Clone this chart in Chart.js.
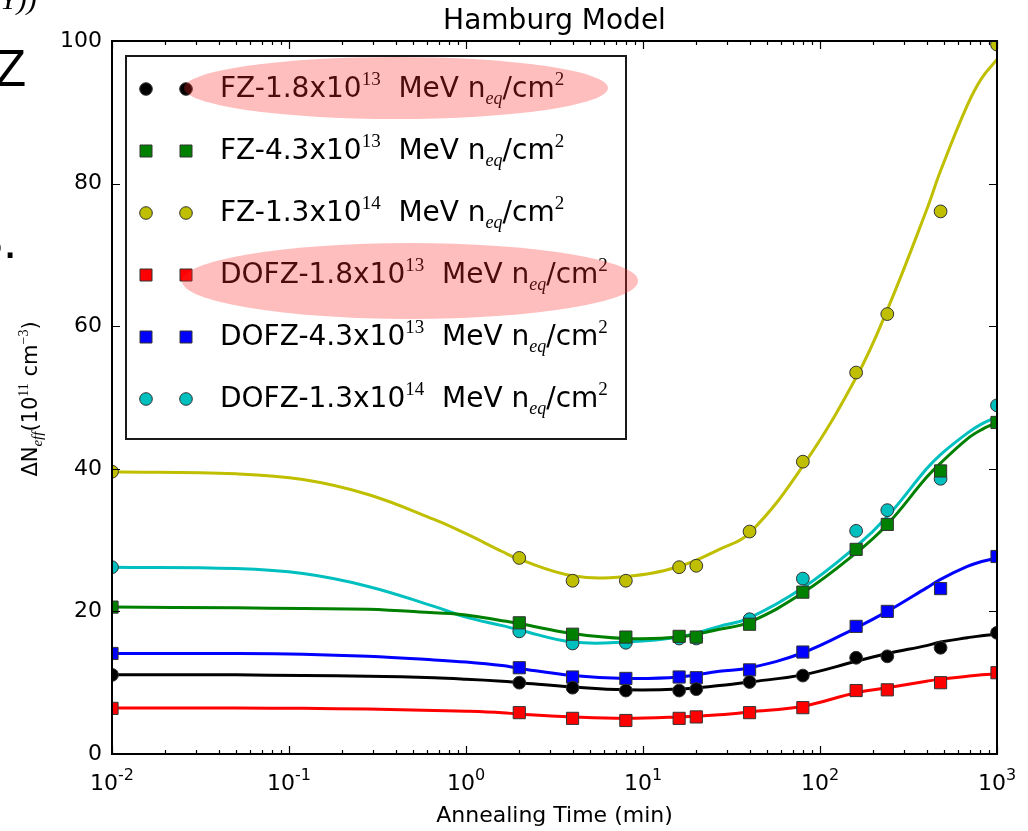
<!DOCTYPE html>
<html>
<head>
<meta charset="utf-8">
<script src="https://cdn.jsdelivr.net/npm/chart.js@4.4.1/dist/chart.umd.min.js"></script>
<style>
  html, body { margin: 0; padding: 0; background: #fff; }
  #wrap { position: relative; width: 1028px; height: 831px; }
</style>
</head>
<body>
<div id="wrap"><canvas id="annealChart"></canvas></div>
<script>
// Measured annealing points (time in min, dNeff in 1e11 cm^-3)
const annealTimes = [0.01, 2, 4, 8, 16, 20, 40, 80, 160, 240, 480, 1000];
const fz18Points   = [11.1, 10.0, 9.3, 8.9, 8.9, 9.1, 10.1, 11.0, 13.5, 13.7, 14.9, 17.0];
const fz43Points   = [20.6, 18.4, 16.8, 16.4, 16.5, 16.4, 18.2, 22.7, 28.7, 32.2, 39.7, 46.5];
const fz13Points   = [39.6, 27.5, 24.3, 24.3, 26.2, 26.4, 31.2, 41.0, 53.5, 61.7, 76.1, 99.5];
const dofz18Points = [6.4, 5.8, 5.0, 4.7, 5.0, 5.2, 5.8, 6.5, 8.9, 9.0, 10.0, 11.4];
const dofz43Points = [14.1, 12.1, 10.8, 10.6, 10.8, 10.7, 11.8, 14.3, 17.9, 20.0, 23.2, 27.7];
const dofz13Points = [26.2, 17.2, 15.5, 15.6, 16.2, 16.2, 18.9, 24.6, 31.3, 34.2, 38.6, 48.9];

// Hamburg model fit curves
const fitTimes   = [0.01, 0.05, 0.12, 0.28, 0.66, 1, 1.6, 2, 4, 8, 16, 27, 40, 80, 160, 240, 400, 480, 680, 820, 1000];
const fz18Fit    = [11.1, 11.1, 11.0, 10.9, 10.7, 10.5, 10.2, 10.0, 9.4, 9.0, 9.1, 9.6, 10.1, 11.1, 13.0, 14.1, 15.2, 15.7, 16.3, 16.6, 16.8];
const fz43Fit    = [20.6, 20.5, 20.4, 20.3, 19.8, 19.5, 18.7, 18.3, 16.9, 16.2, 16.4, 17.5, 18.5, 22.6, 28.2, 32.2, 38.8, 40.8, 44.2, 45.5, 46.5];
const fz13Fit    = [39.6, 39.3, 38.5, 36.4, 32.9, 30.9, 28.4, 27.3, 25.0, 24.9, 26.3, 28.7, 31.0, 40.4, 52.8, 62.3, 76.3, 81.8, 91.0, 94.8, 97.4];
const dofz18Fit  = [6.45, 6.45, 6.4, 6.3, 6.1, 6.0, 5.8, 5.6, 5.2, 5.0, 5.2, 5.5, 5.9, 6.7, 8.6, 9.3, 10.2, 10.5, 10.9, 11.1, 11.2];
const dofz43Fit  = [14.1, 14.1, 14.0, 13.7, 13.2, 12.9, 12.4, 12.0, 11.0, 10.6, 10.8, 11.6, 12.1, 14.2, 17.7, 20.0, 23.3, 24.5, 26.3, 27.0, 27.5];
const dofz13Fit  = [26.2, 26.0, 25.3, 23.5, 20.7, 19.2, 18.0, 17.4, 15.7, 15.7, 16.4, 17.9, 19.1, 23.3, 29.1, 33.3, 40.0, 42.0, 45.0, 46.3, 47.3];

const seriesLabels = [
  'FZ-1.8x10^{13}  MeV n_{eq}/cm^{2}',
  'FZ-4.3x10^{13}  MeV n_{eq}/cm^{2}',
  'FZ-1.3x10^{14}  MeV n_{eq}/cm^{2}',
  'DOFZ-1.8x10^{13}  MeV n_{eq}/cm^{2}',
  'DOFZ-4.3x10^{13}  MeV n_{eq}/cm^{2}',
  'DOFZ-1.3x10^{14}  MeV n_{eq}/cm^{2}'
];
const xTickExponents = [-2, -1, 0, 1, 2, 3];
const yTickValues = [0, 20, 40, 60, 80, 100];

const seriesPoints = [fz18Points, fz43Points, fz13Points, dofz18Points, dofz43Points, dofz13Points];
const seriesFits = [fz18Fit, fz43Fit, fz13Fit, dofz18Fit, dofz43Fit, dofz13Fit];
const seriesColors = ['#000000', '#008000', '#bfbf00', '#ff0000', '#0000ff', '#00bfbf'];
const seriesMarkers = ['circle', 'rect', 'circle', 'rect', 'rect', 'circle'];

const SANS = '"DejaVu Sans", sans-serif';
const SERIF = '"Liberation Serif", "DejaVu Serif", serif';

// tiny mathtext-ish helper: ^{..} superscript, _{..} italic subscript
function richParts(str, o) {
  return str.split(/(\^\{[^}]*\}|_\{[^}]*\})/).filter(s => s.length).map(s => {
    if (s[0] === '^') return { text: s.slice(2, -1), font: o.supFont, dy: -o.supRise };
    if (s[0] === '_') return { text: s.slice(2, -1), font: o.subFont, dy: o.subDrop };
    return { text: s, font: o.font, dy: 0 };
  });
}
function richWidth(ctx, parts) {
  let w = 0;
  parts.forEach(p => { ctx.font = p.font; w += ctx.measureText(p.text).width; });
  return w;
}
function drawRich(ctx, parts, x, y) {
  let cx = x;
  parts.forEach(p => { ctx.font = p.font; ctx.fillText(p.text, cx, y + p.dy); cx += ctx.measureText(p.text).width; });
}

function drawMarker(ctx, style, x, y, color, r) {
  ctx.save();
  ctx.fillStyle = color;
  ctx.strokeStyle = '#333';
  ctx.lineWidth = 1;
  ctx.beginPath();
  if (style === 'circle') ctx.arc(x, y, r, 0, Math.PI * 2);
  else ctx.rect(x - r, y - r, 2 * r, 2 * r);
  ctx.fill();
  ctx.stroke();
  ctx.restore();
}

const legendStyle = {
  font: '28px ' + SANS, supFont: '19px ' + SERIF, supRise: 12,
  subFont: 'italic 18px ' + SERIF, subDrop: 7
};
const ylabelStyle = {
  font: '21px ' + SANS, supFont: '14px ' + SERIF, supRise: 9,
  subFont: 'italic 15px ' + SERIF, subDrop: 5
};
const xtickStyle = {
  font: '22px ' + SANS, supFont: '16px ' + SANS, supRise: 10,
  subFont: '16px ' + SANS, subDrop: 0
};

// matplotlib-like decorations: inward ticks on all sides, spines, labels, legend
const mplDecor = {
  id: 'mplDecor',
  beforeDraw(chart) {
    const ctx = chart.ctx;
    ctx.save();
    ctx.fillStyle = '#fff';
    ctx.fillRect(0, 0, chart.width, chart.height);
    // bits of the slide around the figure
    ctx.fillStyle = '#000';
    ctx.font = '51px "Liberation Sans", sans-serif';
    ctx.fillText('Z', -5, 86);
    ctx.fillText('S.', -31, 258);
    ctx.font = 'italic 30px ' + SERIF;
    ctx.fillText('Y))', 0, 9);
    ctx.restore();
  },
  afterDatasetsDraw(chart) {
    const ctx = chart.ctx;
    const a = chart.chartArea;
    const xs = chart.scales.x, ys = chart.scales.y;
    ctx.save();
    ctx.strokeStyle = '#000';
    ctx.lineWidth = 1.2;
    ctx.beginPath();
    xs.ticks.forEach(t => {
      const px = Math.round(xs.getPixelForValue(t.value)) + 0.5;
      const lg = Math.log10(t.value);
      const len = Math.abs(lg - Math.round(lg)) < 1e-6 ? 8 : 4;
      ctx.moveTo(px, a.bottom); ctx.lineTo(px, a.bottom - len);
      ctx.moveTo(px, a.top); ctx.lineTo(px, a.top + len);
    });
    ys.ticks.forEach(t => {
      const py = Math.round(ys.getPixelForValue(t.value)) + 0.5;
      ctx.moveTo(a.left, py); ctx.lineTo(a.left + 8, py);
      ctx.moveTo(a.right, py); ctx.lineTo(a.right - 8, py);
    });
    ctx.stroke();
    ctx.lineWidth = 2;
    ctx.strokeRect(a.left, a.top, a.right - a.left, a.bottom - a.top);

    ctx.fillStyle = '#000';
    ctx.textBaseline = 'alphabetic';
    xTickExponents.forEach(e => {
      const parts = richParts('10^{' + e + '}', xtickStyle);
      const w = richWidth(ctx, parts);
      drawRich(ctx, parts, xs.getPixelForValue(Math.pow(10, e)) - w / 2, 790);
    });

    const cx = (a.left + a.right) / 2;
    ctx.textAlign = 'center';
    ctx.font = '28px ' + SANS;
    ctx.fillText('Hamburg Model', cx, 29);
    ctx.font = '22px ' + SANS;
    ctx.fillText('Annealing Time (min)', cx, 822);
    ctx.textAlign = 'left';

    const yl = richParts('ΔN_{eff}(10^{11} cm^{−3})', ylabelStyle);
    const yw = richWidth(ctx, yl);
    ctx.translate(37, 399);
    ctx.rotate(-Math.PI / 2);
    drawRich(ctx, yl, -yw / 2, 0);
    ctx.restore();
  },
  afterDraw(chart) {
    const ctx = chart.ctx;
    ctx.save();
    // legend box
    ctx.fillStyle = '#fff';
    ctx.fillRect(126, 56, 500, 383);
    ctx.strokeStyle = '#1a1a1a';
    ctx.lineWidth = 2;
    ctx.strokeRect(126, 56, 500, 383);
    seriesLabels.forEach((lab, i) => {
      const ry = 89 + i * 62;
      const r = seriesMarkers[i] === 'circle' ? 6.3 : 6;
      drawMarker(ctx, seriesMarkers[i], 146, ry, seriesColors[i], r);
      drawMarker(ctx, seriesMarkers[i], 186, ry, seriesColors[i], r);
      ctx.fillStyle = '#000';
      drawRich(ctx, richParts(lab, legendStyle), 220, ry + 8);
    });
    // pink highlight ellipses drawn over the legend
    ctx.fillStyle = 'rgba(255, 40, 40, 0.3)';
    ctx.beginPath();
    ctx.ellipse(396, 88, 212, 31, 0, 0, Math.PI * 2);
    ctx.fill();
    ctx.beginPath();
    ctx.ellipse(410, 281, 228, 38, 0, 0, Math.PI * 2);
    ctx.fill();
    ctx.restore();
  }
};

const datasets = [];
seriesPoints.forEach((pts, i) => {
  datasets.push({
    label: seriesLabels[i],
    data: annealTimes.map((t, k) => ({ x: t, y: pts[k] })),
    showLine: false,
    pointStyle: seriesMarkers[i],
    pointRadius: seriesMarkers[i] === 'circle' ? 6.4 : 8.6,
    pointBackgroundColor: seriesColors[i],
    pointBorderColor: '#333',
    pointBorderWidth: 1,
    clip: 0,
    order: 0
  });
  datasets.push({
    label: seriesLabels[i] + ' fit',
    data: fitTimes.map((t, k) => ({ x: t, y: seriesFits[i][k] })),
    showLine: true,
    borderColor: seriesColors[i],
    borderWidth: 3,
    pointRadius: 0,
    tension: 0.4,
    fill: false,
    clip: 0,
    order: 1
  });
});

new Chart(document.getElementById('annealChart'), {
  type: 'scatter',
  data: { datasets },
  plugins: [mplDecor],
  options: {
    responsive: true,
    maintainAspectRatio: false,
    animation: false,
    events: [],
    layout: { padding: { top: 41, right: 31, left: 0, bottom: 0 } },
    plugins: {
      legend: { display: false },
      title: { display: false },
      tooltip: { enabled: false }
    },
    scales: {
      x: {
        type: 'logarithmic',
        min: 0.01,
        max: 1000,
        grid: { display: false },
        border: { display: false },
        ticks: { autoSkip: false, callback: () => '' },
        afterBuildTicks: (scale) => {
          const ticks = [];
          for (let e = xTickExponents[0]; e < xTickExponents[xTickExponents.length - 1]; e++) {
            for (let m = 1; m <= 9; m++) ticks.push({ value: m * Math.pow(10, e) });
          }
          ticks.push({ value: Math.pow(10, xTickExponents[xTickExponents.length - 1]) });
          scale.ticks = ticks;
        },
        afterFit: (scale) => { scale.height = 77; }
      },
      y: {
        min: 0,
        max: 100,
        grid: { display: false, drawTicks: false },
        border: { display: false },
        ticks: { color: '#000', padding: 10, font: { family: 'DejaVu Sans', size: 22 } },
        afterBuildTicks: (scale) => { scale.ticks = yTickValues.map(v => ({ value: v })); },
        afterFit: (scale) => { scale.width = 112; }
      }
    }
  }
});
</script>
</body>
</html>
